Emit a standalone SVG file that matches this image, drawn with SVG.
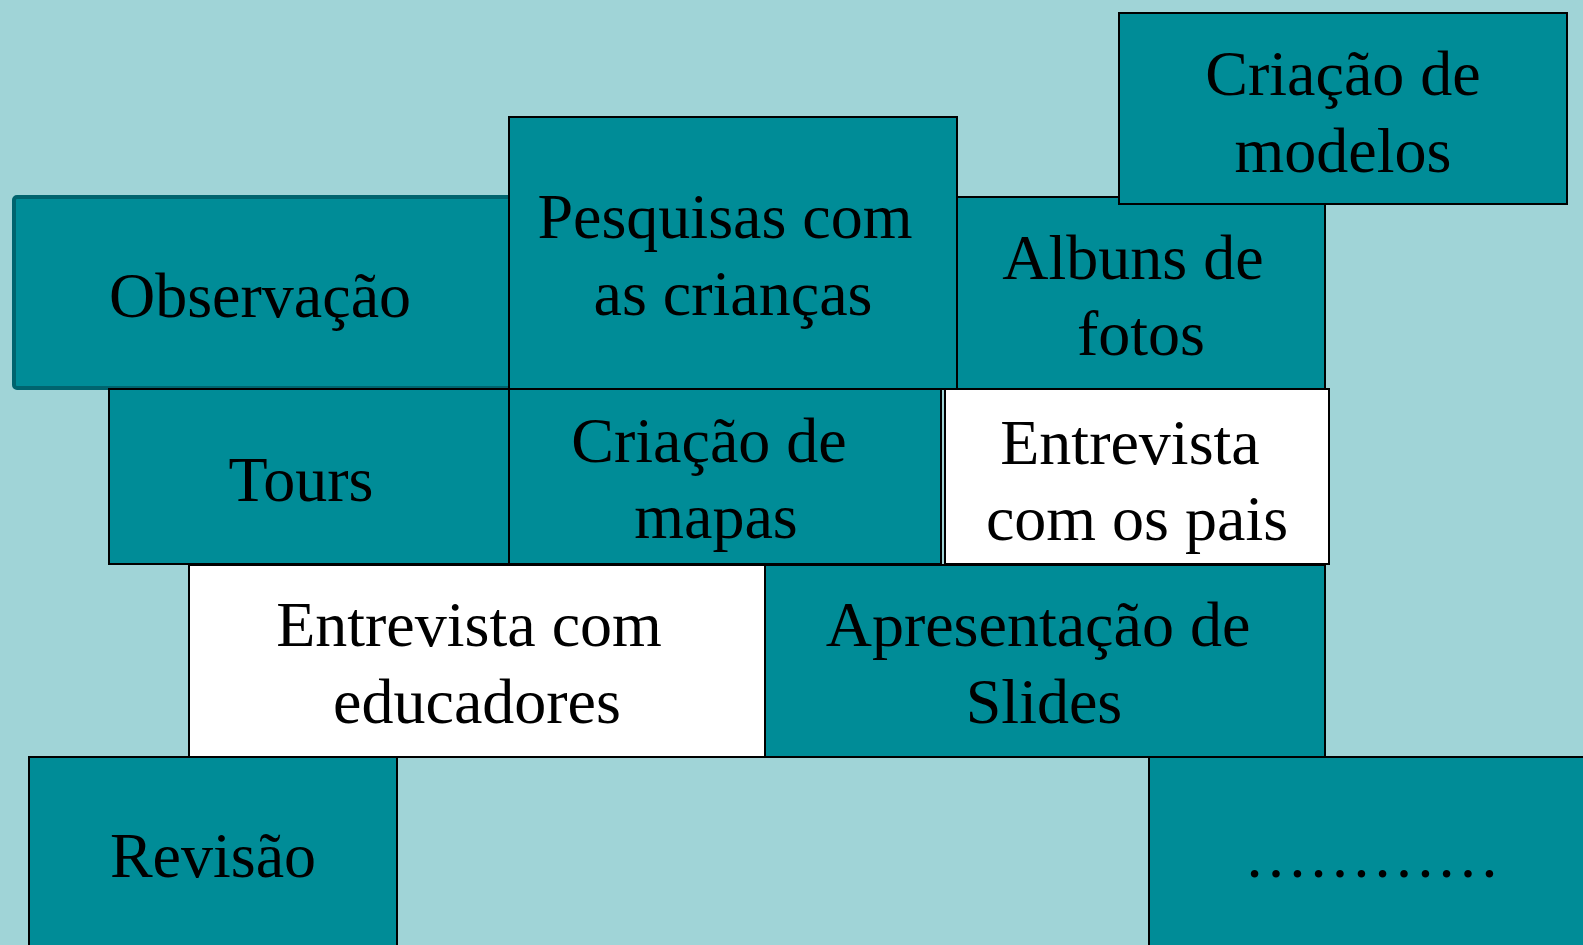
<svg xmlns="http://www.w3.org/2000/svg" width="1583" height="945" viewBox="0 0 1583 945">
<style>
.box{fill:#008C97;stroke:#000;stroke-width:2}
.wbox{fill:#fff;stroke:#000;stroke-width:2}
.t{font-family:"Liberation Serif","Times New Roman",serif;font-size:64px;fill:#000;text-anchor:middle}
</style>
<rect x="0" y="0" width="1583" height="945" fill="#A0D4D7"/>
<g id="observacao">
<rect x="14" y="197" width="505" height="191" rx="3" fill="#008C97" stroke="#00646E" stroke-width="4"/>
<text class="t" x="260" y="317">Observação</text>
</g>
<g id="pesquisas">
<rect class="box" x="509" y="117" width="448" height="272"/>
<text class="t" x="725" y="238">Pesquisas com</text>
<text class="t" x="733" y="315">as crianças</text>
</g>
<g id="albuns">
<rect class="box" x="957" y="197" width="368" height="192"/>
<text class="t" x="1133" y="279">Albuns de</text>
<text class="t" x="1141" y="355">fotos</text>
</g>
<g id="criacao-modelos">
<rect class="box" x="1119" y="13" width="448" height="191"/>
<text class="t" x="1343" y="95">Criação de</text>
<text class="t" x="1343" y="172">modelos</text>
</g>
<g id="tours">
<rect class="box" x="109" y="389" width="400" height="175"/>
<text class="t" x="301" y="501">Tours</text>
</g>
<g id="criacao-mapas">
<rect class="box" x="509" y="389" width="432" height="175"/>
<text class="t" x="709" y="462">Criação de</text>
<text class="t" x="716" y="538">mapas</text>
</g>
<g id="entrevista-pais">
<rect class="wbox" x="945" y="389" width="384" height="175"/>
<text class="t" x="1130" y="464">Entrevista</text>
<text class="t" x="1137" y="540">com os pais</text>
</g>
<g id="entrevista-educadores">
<rect class="wbox" x="189" y="565" width="576" height="192"/>
<text class="t" x="469" y="646">Entrevista com</text>
<text class="t" x="477" y="723">educadores</text>
</g>
<g id="apresentacao">
<rect class="box" x="765" y="565" width="560" height="192"/>
<text class="t" x="1038" y="646">Apresentação de</text>
<text class="t" x="1044" y="723">Slides</text>
</g>
<g id="revisao">
<rect class="box" x="29" y="757" width="368" height="200"/>
<text class="t" x="213" y="877">Revisão</text>
</g>
<g id="mais">
<rect class="box" x="1149" y="757" width="450" height="200"/>
<text class="t" x="1372" y="877">…………</text>
</g>
<g id="connectors"/>
</svg>
